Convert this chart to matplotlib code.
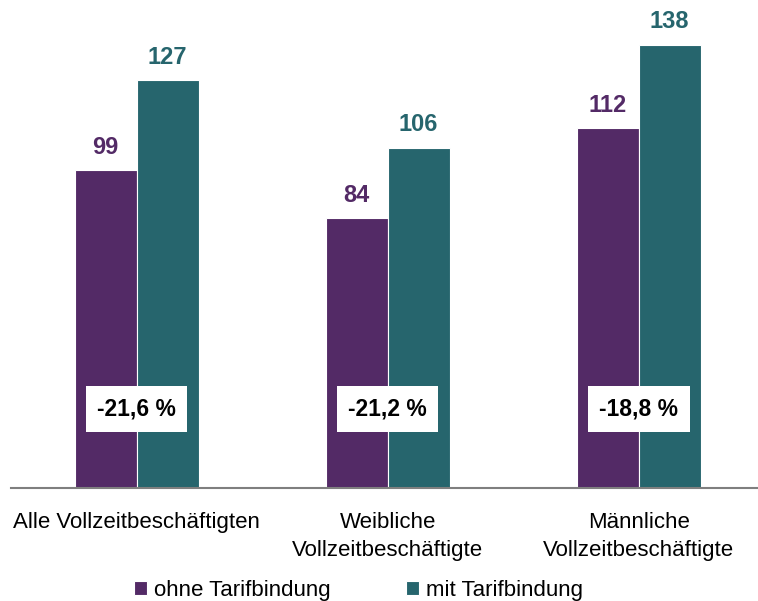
import numpy as np
import matplotlib.pyplot as plt
import matplotlib as mpl

mpl.rcParams['font.family'] = ['Liberation Sans Narrow', 'Liberation Sans', 'DejaVu Sans']

categories = ['Alle Vollzeitbeschäftigten', 'Weibliche\nVollzeitbeschäftigte', 'Männliche\nVollzeitbeschäftigte']
ohne = [99, 84, 112]
mit = [127, 106, 138]
gap_labels = ['-21,6 %', '-21,2 %', '-18,8 %']

c_ohne = '#532A66'
c_mit = '#26656D'

fig = plt.figure(figsize=(7.58, 6.01), dpi=100)
ax = fig.add_axes([11/758, 113/601, 747/758, 488/601])

x = np.arange(len(categories))
w = 0.247
ax.bar(x - w/2, ohne, w, color=c_ohne, edgecolor='white', linewidth=0.8, label='ohne Tarifbindung')
ax.bar(x + w/2, mit, w, color=c_mit, edgecolor='white', linewidth=0.8, label='mit Tarifbindung')

for i in range(len(x)):
    ax.text(x[i] - w/2, ohne[i] + 3.6, str(ohne[i]), ha='center', va='bottom',
            fontsize=17, fontweight='bold', color=c_ohne)
    ax.text(x[i] + w/2, mit[i] + 3.6, str(mit[i]), ha='center', va='bottom',
            fontsize=17, fontweight='bold', color=c_mit)
    ax.text(x[i], 24.5, gap_labels[i], ha='center', va='center', fontsize=16.5,
            fontweight='bold', color='black',
            bbox=dict(boxstyle='square,pad=0.5', fc='white', ec='none'))

ax.set_xlim(-0.5, 2.475)
ax.set_ylim(0, 152)
ax.set_yticks([])
ax.set_xticks(x)
ax.set_xticklabels(categories, fontsize=16, linespacing=1.45)
ax.tick_params(axis='x', length=0, pad=17)
for s in ['top', 'right', 'left']:
    ax.spines[s].set_visible(False)
ax.spines['bottom'].set_color('#7f7f7f')
ax.spines['bottom'].set_linewidth(1.5)

fig.legend(loc='center', bbox_to_anchor=(0.473, 0.018), ncol=2, frameon=False,
           fontsize=16, handlelength=0.6, handleheight=0.6, handletextpad=0.3,
           columnspacing=3.4, borderpad=0)

fig.savefig('out.png', dpi=100)
